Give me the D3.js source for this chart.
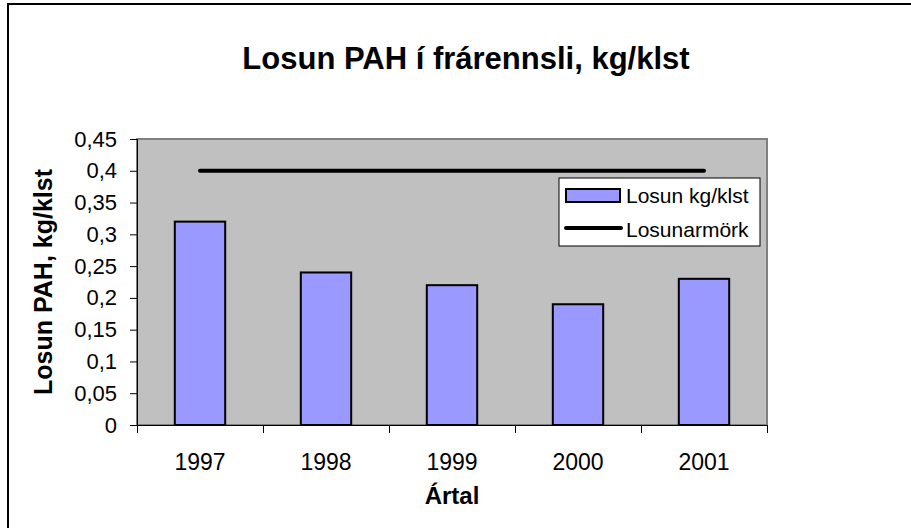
<!DOCTYPE html>
<html>
<head>
<meta charset="utf-8">
<script src="https://cdn.jsdelivr.net/npm/d3@7"></script>
<style>
  body { margin: 0; background: #fff; }
  svg text { font-family: "Liberation Sans", Arial, sans-serif; fill: #000; }
</style>
</head>
<body>
<div class="chart"></div>
<script>
"use strict";

// data
var years = ['1997', '1998', '1999', '2000', '2001'];
var losun = [0.32, 0.24, 0.22, 0.19, 0.23];       // Losun kg/klst
var losunarmork = [0.4, 0.4, 0.4, 0.4, 0.4];      // Losunarmörk
var yTicks = [0, 0.05, 0.1, 0.15, 0.2, 0.25, 0.3, 0.35, 0.4, 0.45];

var width = 911, height = 528;
var plot = {left: 137, right: 767, top: 139, bottom: 425};

var svg = d3.select('.chart').append('svg')
  .attr('width', width)
  .attr('height', height);

// outer chart border (right and bottom edges fall outside the picture)
svg.append('rect')
  .attr('x', 8).attr('y', 4)
  .attr('width', 930).attr('height', 560)
  .attr('fill', '#fff')
  .attr('stroke', '#000')
  .attr('stroke-width', 2);

// plot area
svg.append('rect')
  .attr('x', plot.left).attr('y', plot.top)
  .attr('width', plot.right - plot.left)
  .attr('height', plot.bottom - plot.top)
  .attr('fill', '#c0c0c0')
  .attr('stroke', '#808080')
  .attr('stroke-width', 2);

var x = d3.scaleBand()
  .domain(years)
  .range([plot.left, plot.right])
  .paddingInner(0.6)
  .paddingOuter(0.3);

// category boundaries for the tick marks
var xEdge = d3.scaleLinear().domain([0, years.length]).range([plot.left, plot.right]);

var y = d3.scaleLinear().domain([0, 0.45]).range([plot.bottom, plot.top]);

// bars
svg.selectAll('.bar')
  .data(losun)
  .enter().append('rect')
  .attr('class', 'bar')
  .attr('x', function(d, i) { return x(years[i]) })
  .attr('y', function(d) { return y(d) })
  .attr('width', x.bandwidth())
  .attr('height', function(d) { return y(0) - y(d) })
  .attr('fill', '#9999ff')
  .attr('stroke', '#000')
  .attr('stroke-width', 2);

// limit line
var line = d3.line()
  .x(function(d, i) { return x(years[i]) + x.bandwidth() / 2 })
  .y(function(d) { return y(d) });

svg.append('path')
  .datum(losunarmork)
  .attr('d', line)
  .attr('fill', 'none')
  .attr('stroke', '#000')
  .attr('stroke-width', 4)
  .attr('stroke-linecap', 'round');

// y axis
var yAxis = svg.append('g')
  .attr('transform', 'translate(' + plot.left + ',0)')
  .call(d3.axisLeft(y)
    .tickValues(yTicks)
    .tickSize(7)
    .tickPadding(13)
    .tickFormat(function(d) { return String(+d.toFixed(2)).replace('.', ',') }));
yAxis.select('.domain').attr('stroke', '#000');
yAxis.selectAll('.tick line').attr('stroke', '#000');
yAxis.selectAll('text').attr('font-size', 22).attr('font-family', null);

// x axis: tick marks on category edges
var xTickAxis = svg.append('g')
  .attr('transform', 'translate(0,' + plot.bottom + ')')
  .call(d3.axisBottom(xEdge).ticks(5).tickSize(8).tickFormat(''));
xTickAxis.select('.domain').attr('stroke', '#000');
xTickAxis.selectAll('.tick line').attr('stroke', '#000');

// x axis labels
var xAxis = svg.append('g')
  .attr('transform', 'translate(0,' + plot.bottom + ')')
  .call(d3.axisBottom(x).tickSize(0).tickPadding(29));
xAxis.select('.domain').remove();
xAxis.selectAll('text').attr('font-size', 23).attr('font-family', null);

// titles
svg.append('text')
  .attr('x', 466).attr('y', 69)
  .attr('text-anchor', 'middle')
  .attr('font-size', 31)
  .attr('font-weight', 'bold')
  .text('Losun PAH í frárennsli, kg/klst');

svg.append('text')
  .attr('x', (plot.left + plot.right) / 2).attr('y', 504)
  .attr('text-anchor', 'middle')
  .attr('font-size', 24)
  .attr('font-weight', 'bold')
  .text('Ártal');

svg.append('text')
  .attr('transform', 'translate(52,' + (plot.top + plot.bottom) / 2 + ') rotate(-90)')
  .attr('text-anchor', 'middle')
  .attr('font-size', 25)
  .attr('font-weight', 'bold')
  .text('Losun PAH, kg/klst');

// legend
var legend = svg.append('g').attr('transform', 'translate(559,178)');
legend.append('rect')
  .attr('width', 201).attr('height', 68)
  .attr('fill', '#fff')
  .attr('stroke', '#000')
  .attr('stroke-width', 1);
legend.append('rect')
  .attr('x', 7).attr('y', 11)
  .attr('width', 54).attr('height', 13)
  .attr('fill', '#9999ff')
  .attr('stroke', '#000')
  .attr('stroke-width', 2);
legend.append('line')
  .attr('x1', 7).attr('x2', 62)
  .attr('y1', 50).attr('y2', 50)
  .attr('stroke', '#000')
  .attr('stroke-width', 4)
  .attr('stroke-linecap', 'round');
legend.selectAll('.ltext')
  .data(['Losun kg/klst', 'Losunarmörk'])
  .enter().append('text')
  .attr('class', 'ltext')
  .attr('x', 67)
  .attr('y', function(d, i) { return 25 + i * 34 })
  .attr('font-size', 21)
  .text(function(d) { return d });
</script>
</body>
</html>
